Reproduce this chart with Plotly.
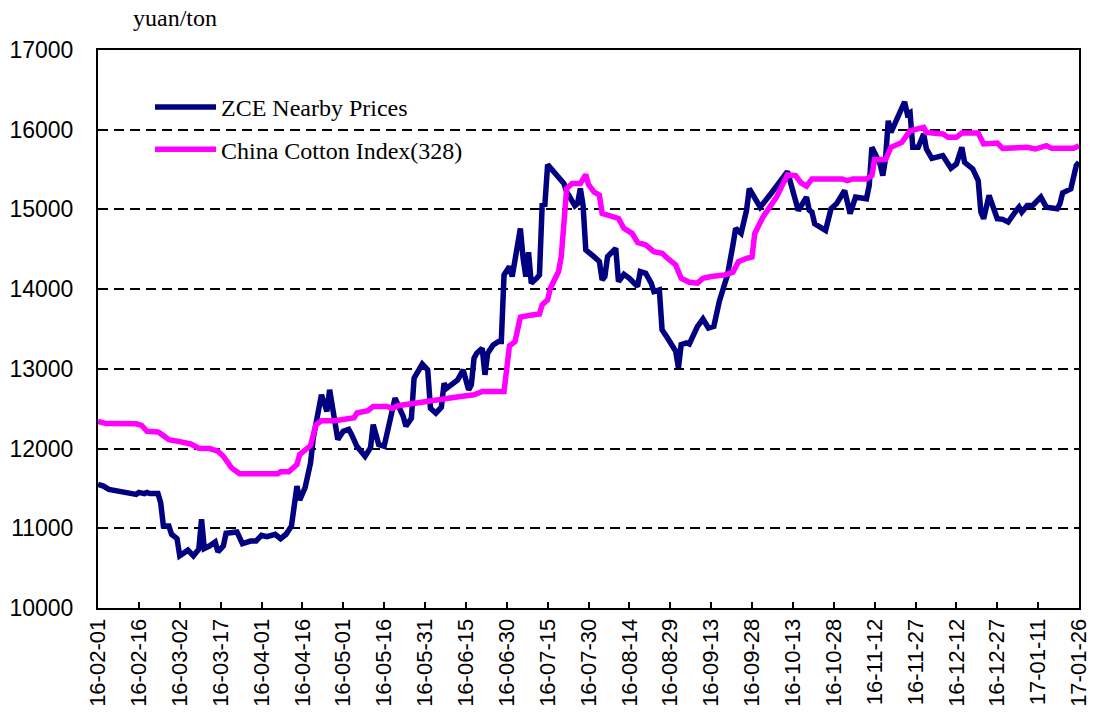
import plotly.graph_objects as go

# ---- data ----
zce_dates = [
    "2016-02-01", "2016-02-03", "2016-02-05", "2016-02-10", "2016-02-15", "2016-02-16",
    "2016-02-18", "2016-02-19", "2016-02-20", "2016-02-23", "2016-02-24", "2016-02-25",
    "2016-02-27", "2016-02-28", "2016-03-01", "2016-03-02", "2016-03-05", "2016-03-07",
    "2016-03-09", "2016-03-10", "2016-03-11", "2016-03-13", "2016-03-15", "2016-03-16",
    "2016-03-18", "2016-03-19", "2016-03-21", "2016-03-23", "2016-03-25", "2016-03-28",
    "2016-03-30", "2016-04-01", "2016-04-03", "2016-04-06", "2016-04-08", "2016-04-10",
    "2016-04-12", "2016-04-14", "2016-04-15", "2016-04-17", "2016-04-19", "2016-04-20",
    "2016-04-23", "2016-04-25", "2016-04-26", "2016-04-29", "2016-05-01", "2016-05-03",
    "2016-05-04", "2016-05-06", "2016-05-09", "2016-05-11", "2016-05-12", "2016-05-14",
    "2016-05-16", "2016-05-18", "2016-05-20", "2016-05-23", "2016-05-24", "2016-05-26",
    "2016-05-27", "2016-05-30", "2016-06-01", "2016-06-02", "2016-06-04", "2016-06-06",
    "2016-06-07", "2016-06-08", "2016-06-11", "2016-06-12", "2016-06-13", "2016-06-14",
    "2016-06-16", "2016-06-17", "2016-06-18", "2016-06-19", "2016-06-21", "2016-06-22",
    "2016-06-23", "2016-06-25", "2016-06-27", "2016-06-28", "2016-06-29", "2016-07-01",
    "2016-07-02", "2016-07-03", "2016-07-05", "2016-07-06", "2016-07-07", "2016-07-08",
    "2016-07-09", "2016-07-11", "2016-07-12", "2016-07-13", "2016-07-14", "2016-07-15",
    "2016-07-20", "2016-07-21", "2016-07-22", "2016-07-25", "2016-07-26", "2016-07-27",
    "2016-07-28", "2016-07-29", "2016-08-01", "2016-08-03", "2016-08-04", "2016-08-05",
    "2016-08-06", "2016-08-09", "2016-08-10", "2016-08-11", "2016-08-12", "2016-08-14",
    "2016-08-17", "2016-08-18", "2016-08-20", "2016-08-22", "2016-08-23", "2016-08-25",
    "2016-08-26", "2016-08-28", "2016-08-30", "2016-08-31", "2016-09-01", "2016-09-02",
    "2016-09-04", "2016-09-05", "2016-09-08", "2016-09-10", "2016-09-12", "2016-09-14",
    "2016-09-16", "2016-09-19", "2016-09-21", "2016-09-22", "2016-09-24", "2016-09-26",
    "2016-09-27", "2016-10-01", "2016-10-05", "2016-10-11", "2016-10-15", "2016-10-18",
    "2016-10-19", "2016-10-20", "2016-10-21", "2016-10-25", "2016-10-27", "2016-10-29",
    "2016-11-01", "2016-11-03", "2016-11-05", "2016-11-09", "2016-11-10", "2016-11-11",
    "2016-11-14", "2016-11-15", "2016-11-16", "2016-11-17", "2016-11-18", "2016-11-20",
    "2016-11-23", "2016-11-24", "2016-11-25", "2016-11-26", "2016-11-28", "2016-11-30",
    "2016-12-01", "2016-12-03", "2016-12-07", "2016-12-10", "2016-12-12", "2016-12-14",
    "2016-12-15", "2016-12-18", "2016-12-20", "2016-12-21", "2016-12-22", "2016-12-24",
    "2016-12-27", "2016-12-29", "2016-12-31", "2017-01-03", "2017-01-04", "2017-01-05",
    "2017-01-07", "2017-01-09", "2017-01-12", "2017-01-14", "2017-01-18", "2017-01-19",
    "2017-01-20", "2017-01-23", "2017-01-25", "2017-01-26",
]
zce_values = [
    11550, 11529, 11487, 11454, 11425, 11450,
    11435, 11450, 11437, 11437, 11320, 11029,
    11029, 10925, 10870, 10654, 10725, 10654,
    10737, 11112, 10746, 10780, 10829, 10704,
    10779, 10937, 10945, 10954, 10808, 10840,
    10840, 10912, 10895, 10925, 10870, 10925,
    11029, 11529, 11354, 11510, 11821, 12133,
    12675, 12467, 12737, 12113, 12217, 12240,
    12180, 12029, 11904, 12010, 12300, 12050,
    12029, 12342, 12633, 12404, 12279, 12380,
    12883, 13060, 12987, 12507, 12444, 12519,
    12820, 12757, 12841, 12862, 12925, 12987,
    12737, 12800, 13134, 13196, 13259, 12925,
    13196, 13300, 13343, 13343, 14179, 14283,
    14158, 14387, 14762, 14387, 14158, 14462,
    14075, 14137, 14179, 15054, 15062, 15562,
    15366, 15325, 15221, 15046, 15075, 15263,
    15054, 14491, 14408, 14346, 14116, 14158,
    14408, 14512, 14095, 14129, 14187, 14137,
    14033, 14220, 14200, 14075, 13970, 13991,
    13491, 13387, 13295, 13220, 13012, 13304,
    13325, 13312, 13533, 13625, 13512, 13533,
    13845, 14179, 14554, 14762, 14700, 14991,
    15262, 15029, 15200, 15475, 14987, 15154,
    14990, 14966, 14820, 14737, 15008, 15070,
    15237, 14946, 15154, 15133, 15300, 15779,
    15570, 15425, 15637, 16112, 15966, 16112,
    16350, 16196, 16216, 15779, 15779, 15946,
    15758, 15641, 15675, 15517, 15570, 15779,
    15591, 15508, 15362, 14966, 14883, 15175,
    14883, 14875, 14841, 14987, 15029, 14966,
    15050, 15050, 15154, 15029, 15008, 15070,
    15208, 15258, 15550, 15592,
]

cci_dates = [
    "2016-02-01", "2016-02-04", "2016-02-15", "2016-02-17", "2016-02-19", "2016-02-23",
    "2016-02-24", "2016-02-27", "2016-03-02", "2016-03-06", "2016-03-09", "2016-03-13",
    "2016-03-16", "2016-03-18", "2016-03-21", "2016-03-24", "2016-04-07", "2016-04-08",
    "2016-04-11", "2016-04-14", "2016-04-15", "2016-04-17", "2016-04-19", "2016-04-21",
    "2016-04-23", "2016-04-28", "2016-05-05", "2016-05-06", "2016-05-10", "2016-05-12",
    "2016-05-17", "2016-05-19", "2016-05-21", "2016-05-26", "2016-05-31", "2016-06-06",
    "2016-06-13", "2016-06-18", "2016-06-21", "2016-06-29", "2016-06-30", "2016-07-01",
    "2016-07-03", "2016-07-05", "2016-07-08", "2016-07-12", "2016-07-13", "2016-07-15",
    "2016-07-16", "2016-07-19", "2016-07-20", "2016-07-21", "2016-07-22", "2016-07-24",
    "2016-07-27", "2016-07-29", "2016-07-30", "2016-08-01", "2016-08-03", "2016-08-04",
    "2016-08-09", "2016-08-10", "2016-08-12", "2016-08-15", "2016-08-17", "2016-08-20",
    "2016-08-23", "2016-08-26", "2016-08-28", "2016-08-31", "2016-09-02", "2016-09-05",
    "2016-09-08", "2016-09-10", "2016-09-13", "2016-09-18", "2016-09-21", "2016-09-23",
    "2016-09-26", "2016-09-28", "2016-09-29", "2016-10-02", "2016-10-07", "2016-10-11",
    "2016-10-14", "2016-10-16", "2016-10-18", "2016-10-20", "2016-10-31", "2016-11-02",
    "2016-11-04", "2016-11-09", "2016-11-11", "2016-11-12", "2016-11-16", "2016-11-18",
    "2016-11-22", "2016-11-25", "2016-11-30", "2016-12-01", "2016-12-07", "2016-12-09",
    "2016-12-12", "2016-12-14", "2016-12-20", "2016-12-22", "2016-12-27", "2016-12-29",
    "2017-01-07", "2017-01-10", "2017-01-14", "2017-01-16", "2017-01-24", "2017-01-26",
]
cci_values = [
    12342, 12313, 12310, 12290, 12217, 12208,
    12187, 12112, 12087, 12058, 12004, 12000,
    11967, 11904, 11758, 11683, 11683, 11708,
    11708, 11800, 11925, 11987, 12038, 12300,
    12350, 12350, 12387, 12446, 12475, 12529,
    12529, 12504, 12537, 12562, 12592, 12615,
    12653, 12674, 12716, 12716, 13012, 13290,
    13340, 13650, 13670, 13687, 13804, 13866,
    14012, 14221, 14408, 14929, 15262, 15325,
    15325, 15437, 15312, 15221, 15180, 14950,
    14908, 14887, 14762, 14700, 14587, 14554,
    14471, 14450, 14387, 14304, 14137, 14087,
    14075, 14137, 14158, 14179, 14212, 14345,
    14387, 14404, 14696, 14904, 15154, 15433,
    15425, 15333, 15292, 15383, 15383, 15362,
    15383, 15383, 15425, 15625, 15625, 15779,
    15841, 15987, 16029, 15966, 15946, 15904,
    15904, 15958, 15958, 15821, 15833, 15766,
    15779, 15758, 15800, 15766, 15766, 15800,
]

series_names = ["ZCE Nearby Prices", "China Cotton Index(328)"]
y_unit_label = "yuan/ton"
y_ticks = [10000, 11000, 12000, 13000, 14000, 15000, 16000, 17000]
y_tick_labels = ["10000", "11000", "12000", "13000", "14000", "15000", "16000", "17000"]
x_range = ["2016-02-01", "2017-01-26"]

# ---- figure ----
W, H = 1095, 715
L, R, T, B = 98, 16, 50, 107

SERIF = "Liberation Serif, Times New Roman, serif"
SANS = "Liberation Sans, Arial, sans-serif"

fig = go.Figure()
fig.add_trace(go.Scatter(
    x=zce_dates, y=zce_values, mode="lines", name=series_names[0],
    line=dict(color="#000080", width=5.5), legendgroup="a",
))
fig.add_trace(go.Scatter(
    x=cci_dates, y=cci_values, mode="lines", name=series_names[1],
    line=dict(color="#FF00FF", width=5.5), legendgroup="b",
))

def px_x(p):
    return (p - L) / (W - L - R)

def px_y(p):
    return 1 - (p - T) / (H - T - B)

# white backdrop behind legend (hides gridline as in reference)
fig.add_shape(type="rect", xref="paper", yref="paper",
              x0=px_x(116), x1=px_x(503), y0=px_y(178), y1=px_y(80),
              fillcolor="white", line=dict(width=0), layer="between")

fig.add_annotation(text=y_unit_label, xref="paper", yref="paper",
                   x=px_x(131), y=px_y(18), xanchor="left", yanchor="middle",
                   showarrow=False,
                   font=dict(family=SERIF, size=24, color="black"))

fig.update_layout(
    width=W, height=H,
    margin=dict(l=L, r=R, t=T, b=B, autoexpand=False),
    paper_bgcolor="white", plot_bgcolor="white",
    showlegend=True,
    legend=dict(
        x=px_x(150), y=px_y(85), xanchor="left", yanchor="top",
        bgcolor="rgba(255,255,255,0)", borderwidth=0,
        font=dict(family=SERIF, size=24, color="black"),
        tracegroupgap=8, traceorder="grouped", itemwidth=61,
    ),
    xaxis=dict(
        type="date", range=x_range, automargin=False,
        tick0="2016-02-01", dtick=15 * 86400000, tickformat="%y-%m-%d",
        tickangle=-90, ticks="inside", ticklen=6, tickwidth=2, tickcolor="black",
        showline=True, linecolor="black", linewidth=2, mirror=True,
        showgrid=False, zeroline=False,
        tickfont=dict(family=SANS, size=22, color="black"),
    ),
    yaxis=dict(
        range=[10000, 17000], tickvals=y_ticks, ticktext=y_tick_labels,
        automargin=False,
        ticks="", showline=True, linecolor="black", linewidth=2, mirror=True,
        showgrid=True, gridcolor="black", gridwidth=1.5, griddash="10px,6px",
        zeroline=False, ticklabelstandoff=18,
        tickfont=dict(family=SANS, size=23, color="black"),
    ),
)

post = (
    "document.documentElement.style.margin='0';"
    "document.documentElement.style.overflow='hidden';"
    "document.body.style.margin='0';"
    "document.body.style.overflow='hidden';"
)
fig.write_html("out.html", config={"displayModeBar": False}, post_script=post)
